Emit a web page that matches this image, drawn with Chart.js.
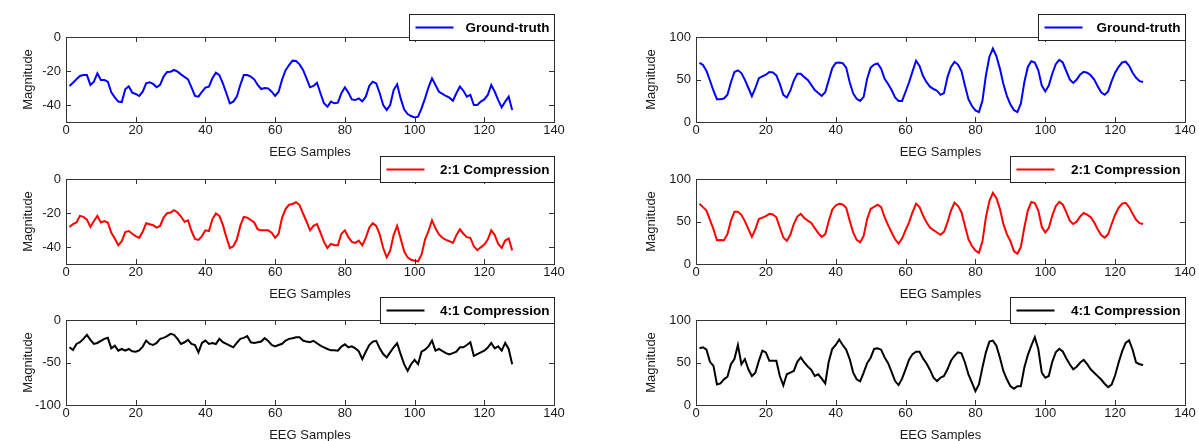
<!DOCTYPE html>
<html>
<head>
<meta charset="utf-8">
<script src="https://cdn.jsdelivr.net/npm/chart.js@4.4.0/dist/chart.umd.min.js"></script>
<style>
  body { margin: 0; background: #fff; width: 1199px; height: 441px; overflow: hidden; position: relative; }
  canvas { position: absolute; }
</style>
</head>
<body>
<canvas id="l1"></canvas>
<canvas id="l2"></canvas>
<canvas id="l3"></canvas>
<canvas id="r1"></canvas>
<canvas id="r2"></canvas>
<canvas id="r3"></canvas>
<script>
// sample index 1..128
const samples = Array.from({length: 128}, (_, i) => i + 1);

const xTicks = [0, 20, 40, 60, 80, 100, 120, 140];
const yTicksLeft = [-40, -20, 0];
const yTicksLeft4 = [-100, -50, 0];
const yTicksRight = [0, 50, 100];

const legendNames = ['Ground-truth', '2:1 Compression', '4:1 Compression'];

// left column
const gtLeft = [-28.8,-26.9,-24.9,-22.9,-22.4,-22.4,-28.2,-26.3,-21.4,-25.3,-25.3,-26.3,-32.5,-35.5,-38.0,-38.3,
  -30.8,-29.0,-32.7,-33.5,-34.7,-32.2,-27.3,-26.7,-27.6,-29.6,-28.2,-23.3,-20.6,-20.4,-19.4,-20.4,
  -22.0,-23.5,-24.9,-29.6,-34.7,-35.1,-32.2,-29.8,-29.2,-24.3,-21.0,-22.4,-27.3,-33.1,-39.0,-38.0,
  -35.1,-28.2,-22.4,-22.4,-23.3,-24.9,-28.2,-30.6,-30.0,-30.2,-32.2,-34.7,-32.2,-25.0,-19.5,-16.5,
  -13.9,-14.1,-16.1,-19.4,-24.3,-29.6,-28.8,-26.9,-33.1,-39.0,-41.0,-38.0,-39.0,-38.6,-33.1,-29.6,
  -32.7,-36.7,-37.1,-36.1,-37.8,-35.1,-28.8,-26.3,-27.3,-33.1,-40.0,-42.9,-40.0,-31.2,-27.8,-36.1,
  -42.5,-45.3,-46.5,-47.3,-46.9,-42.0,-36.1,-29.6,-24.3,-28.2,-32.2,-33.5,-34.7,-35.7,-37.5,-33.1,
  -29.2,-31.6,-35.1,-34.1,-40.0,-40.0,-38.0,-36.7,-34.1,-28.2,-32.2,-37.1,-41.4,-38.0,-35.1,-43.0];

const c2Left = [-28.2,-26.6,-25.6,-21.7,-22.3,-23.9,-28.2,-24.7,-21.7,-25.6,-24.7,-25.6,-31.6,-35.0,-39.0,-36.6,
  -31.2,-30.6,-32.2,-33.6,-34.6,-31.0,-26.0,-26.6,-27.2,-28.6,-27.6,-22.7,-20.1,-19.7,-18.3,-19.7,
  -22.1,-25.2,-24.3,-30.6,-35.2,-35.8,-33.6,-30.2,-30.6,-23.7,-20.3,-21.7,-27.0,-34.2,-40.6,-39.6,
  -35.6,-27.6,-22.3,-22.7,-24.1,-25.6,-29.6,-30.2,-30.2,-30.2,-31.6,-34.6,-32.2,-22.7,-17.7,-15.1,
  -14.7,-13.7,-15.3,-20.3,-25.0,-30.2,-27.6,-26.6,-31.6,-37.0,-40.6,-38.2,-39.0,-39.0,-32.2,-30.2,
  -34.2,-37.0,-37.6,-36.2,-39.0,-34.6,-28.6,-26.0,-27.6,-32.6,-40.6,-46.1,-42.1,-33.0,-27.6,-35.0,
  -42.5,-46.1,-47.5,-48.1,-48.5,-44.5,-35.6,-30.6,-24.3,-29.0,-32.6,-34.6,-35.8,-36.6,-37.6,-33.0,
  -29.6,-32.2,-34.2,-34.6,-39.6,-41.9,-40.2,-38.6,-35.6,-30.2,-33.0,-38.2,-40.6,-36.2,-35.0,-42.0];

const c4Left = [-32.1,-35.3,-28.2,-26.2,-22.2,-17.5,-23.4,-28.2,-27.0,-24.6,-22.2,-21.0,-33.3,-30.2,-36.1,-34.1,
  -36.1,-34.1,-36.9,-37.3,-35.7,-31.3,-24.2,-28.2,-29.4,-27.0,-22.2,-21.0,-19.0,-16.3,-17.5,-22.2,
  -28.2,-26.2,-23.4,-28.2,-29.4,-38.1,-27.0,-24.2,-28.2,-27.0,-28.2,-22.2,-26.2,-28.2,-30.2,-32.1,
  -27.0,-22.2,-21.0,-19.0,-26.2,-27.0,-26.2,-25.4,-21.4,-24.6,-29.4,-31.0,-29.4,-28.0,-24.2,-22.2,
  -21.4,-20.2,-20.2,-24.2,-25.4,-26.2,-24.6,-27.4,-30.2,-32.1,-34.1,-35.7,-35.7,-36.1,-31.3,-28.6,
  -32.1,-31.0,-33.3,-36.9,-46.0,-37.3,-29.4,-25.4,-24.6,-33.3,-40.1,-44.0,-38.1,-32.1,-27.4,-40.1,
  -52.0,-59.9,-52.0,-46.8,-52.0,-37.3,-34.9,-31.0,-24.2,-36.1,-34.1,-36.5,-38.9,-40.5,-38.9,-37.3,
  -32.1,-32.1,-29.4,-26.2,-42.1,-40.1,-38.1,-36.1,-32.5,-27.0,-33.3,-31.0,-36.1,-27.0,-34.1,-52.0];

// right column
const gtRight = [69.6,67.2,60.0,48.8,36.8,26.8,26.8,27.6,32.0,46.8,58.8,60.8,57.6,49.6,40.0,30.4,
  40.0,51.6,53.6,55.6,58.8,58.4,54.8,44.8,32.0,28.8,36.8,48.8,56.8,56.8,52.8,49.6,
  43.6,37.6,34.0,30.8,35.0,49.2,63.4,69.6,70.0,69.2,64.0,46.8,33.6,27.2,24.8,29.6,
  50.8,64.0,67.6,68.8,62.8,50.8,44.8,37.6,28.8,24.8,24.8,35.6,46.8,59.6,72.0,66.0,
  54.0,46.8,41.6,38.8,36.8,32.0,34.0,52.8,64.8,70.8,67.6,60.0,42.8,26.8,18.8,13.6,
  11.6,24.8,54.8,76.8,86.4,77.6,62.8,44.8,30.8,20.8,14.0,11.6,21.6,46.8,64.8,71.6,
  70.0,60.8,42.8,36.0,42.8,56.8,68.0,73.0,70.0,60.0,50.0,46.0,50.0,56.0,59.0,58.0,
  55.0,50.0,42.0,35.0,32.0,36.0,48.0,58.0,65.0,70.0,71.0,66.0,58.0,52.0,48.0,47.0];

const c2Right = [70.9,66.9,62.9,51.8,41.0,27.9,28.3,27.9,35.1,51.0,61.4,61.4,57.8,50.2,41.0,31.9,
  41.0,53.0,54.6,56.2,59.0,58.2,55.0,43.0,31.1,27.1,34.3,47.0,55.8,59.0,54.2,51.0,
  48.2,42.2,36.3,31.9,35.1,50.4,63.9,68.9,70.9,70.1,66.1,51.0,37.1,28.3,25.5,33.1,
  53.0,64.9,67.3,69.7,66.9,55.0,45.8,37.1,29.1,23.9,29.9,39.8,49.0,61.0,70.9,66.9,
  57.0,49.0,43.0,39.8,37.1,34.3,37.8,49.0,62.9,72.1,68.5,61.0,45.0,29.1,21.1,15.9,
  13.1,26.3,55.0,74.1,83.7,77.7,64.9,47.0,35.1,27.1,15.1,12.0,19.9,43.0,62.9,72.9,
  71.7,62.9,43.8,37.1,42.2,57.0,68.0,73.0,70.0,61.0,51.0,47.0,50.0,56.0,60.0,58.0,
  55.0,49.0,41.0,34.0,31.0,35.0,47.0,58.0,66.0,71.0,72.0,67.0,59.0,52.0,48.0,47.0];

const c4Right = [66.7,67.9,65.1,50.8,46.0,24.2,25.4,30.2,33.3,48.0,54.0,70.6,48.0,54.0,42.0,34.1,
  38.1,52.0,63.9,61.9,52.0,52.0,52.0,34.1,23.0,36.1,38.1,40.1,50.8,56.0,50.0,45.2,
  41.3,34.1,36.1,31.0,25.4,51.0,65.9,70.6,77.0,70.6,65.1,54.0,38.1,30.2,27.8,38.1,
  49.2,55.6,65.9,66.7,65.1,56.0,49.2,38.9,28.2,23.4,31.0,42.0,53.2,59.9,62.7,62.7,
  54.8,48.8,41.3,32.1,28.2,32.1,34.1,42.0,52.0,57.9,61.9,60.7,50.0,36.1,26.2,16.3,
  24.2,44.0,61.9,74.6,75.8,69.8,56.0,40.1,30.2,22.2,19.0,22.2,22.2,44.0,58.7,69.8,
  79.8,65.9,38.1,32.1,34.1,50.8,62.0,66.0,63.0,55.0,48.0,42.0,45.0,50.0,53.0,48.0,
  42.0,38.0,34.0,30.0,25.0,21.0,24.0,35.0,50.0,63.0,73.0,76.0,65.0,50.0,48.0,47.0];

const FONT = 'Liberation Sans, Arial, Helvetica, sans-serif';
const INK = '#1a1a1a';

// frame, inward ticks and the small boxed legend (matlab look)
function matlabFrame(cfg) {
  return {
    id: 'matlabFrame',
    afterDraw(chart) {
      const ctx = chart.ctx;
      const a = chart.chartArea;
      const xs = chart.scales.x, ys = chart.scales.y;
      ctx.save();
      ctx.strokeStyle = '#333';
      ctx.lineWidth = 1;
      ctx.beginPath();
      xs.ticks.forEach(t => {
        const px = Math.round(xs.getPixelForValue(t.value)) + 0.5;
        ctx.moveTo(px, a.bottom); ctx.lineTo(px, a.bottom - 5);
        ctx.moveTo(px, a.top); ctx.lineTo(px, a.top + 5);
      });
      ys.ticks.forEach(t => {
        const py = Math.round(ys.getPixelForValue(t.value)) + 0.5;
        ctx.moveTo(a.left, py); ctx.lineTo(a.left + 5, py);
        ctx.moveTo(a.right, py); ctx.lineTo(a.right - 5, py);
      });
      ctx.stroke();
      ctx.strokeRect(Math.round(a.left) + 0.5, Math.round(a.top) + 0.5,
        Math.round(a.right - a.left), Math.round(a.bottom - a.top));

      // legend box
      const right = Math.round(a.right) + 0.5;
      const top = Math.round(a.top) - 23 + 0.5;
      const h = 26;
      const left = right - cfg.legendWidth;
      ctx.fillStyle = '#fff';
      ctx.fillRect(left, top, cfg.legendWidth, h);
      ctx.strokeStyle = '#222';
      ctx.strokeRect(left, top, cfg.legendWidth, h);
      ctx.strokeStyle = cfg.color;
      ctx.lineWidth = 2;
      ctx.beginPath();
      ctx.moveTo(left + 6, top + h / 2);
      ctx.lineTo(left + 44, top + h / 2);
      ctx.stroke();
      ctx.fillStyle = '#000';
      ctx.font = 'bold 13.5px ' + FONT;
      ctx.textAlign = 'right';
      ctx.textBaseline = 'middle';
      ctx.fillText(cfg.label, right - 5, top + h / 2 + 1);
      ctx.restore();
    }
  };
}

function makeChart(id, pos, values, color, label, yMin, yMax, yTickVals, titlePad, legendWidth) {
  const el = document.getElementById(id);
  el.width = pos.w; el.height = pos.h;
  el.style.left = pos.x + 'px'; el.style.top = pos.y + 'px';
  const pts = values.map((v, i) => ({x: samples[i], y: v}));
  new Chart(el, {
    type: 'line',
    data: {
      datasets: [{
        data: pts,
        borderColor: color,
        borderWidth: 2,
        pointRadius: 0,
        tension: 0,
        fill: false
      }]
    },
    options: {
      responsive: false,
      animation: false,
      events: [],
      layout: {autoPadding: false, padding: {left: 0, top: 37, right: pos.padR, bottom: 0}},
      plugins: {legend: {display: false}, tooltip: {enabled: false}},
      scales: {
        x: {
          type: 'linear', min: 0, max: 140,
          afterBuildTicks: s => { s.ticks = xTicks.map(v => ({value: v})); },
          afterFit: s => { s.height = 40; s.paddingLeft = 0; s.paddingRight = 0; },
          grid: {display: false, drawTicks: false},
          border: {display: false},
          ticks: {color: INK, font: {family: FONT, size: 13}, padding: 1, maxRotation: 0, autoSkip: false},
          title: {display: true, text: 'EEG Samples', color: INK, font: {family: FONT, size: 13}, padding: {top: 0, bottom: 2}}
        },
        y: {
          type: 'linear', min: yMin, max: yMax,
          afterBuildTicks: s => { s.ticks = yTickVals.map(v => ({value: v})); },
          afterFit: s => { s.width = 66; s.paddingTop = 0; s.paddingBottom = 0; },
          grid: {display: false, drawTicks: false},
          border: {display: false},
          ticks: {color: INK, font: {family: FONT, size: 13}, padding: 5},
          title: {display: true, text: 'Magnitude', color: INK, font: {family: FONT, size: 13}, padding: {top: titlePad, bottom: 0}}
        }
      }
    },
    plugins: [matlabFrame({color: color, label: label, legendWidth: legendWidth})]
  });
}

const rowsY = [0, 142, 283];
const leftPos = r => ({x: 0, y: rowsY[r], w: 600, h: 162, padR: 46});
const rightPos = r => ({x: 630, y: rowsY[r], w: 569, h: 162, padR: 14});

makeChart('l1', leftPos(0), gtLeft, '#0000ff', legendNames[0], -50, 0, yTicksLeft, 21, 145);
makeChart('l2', leftPos(1), c2Left, '#ff0000', legendNames[1], -50, 0, yTicksLeft, 21, 174);
makeChart('l3', leftPos(2), c4Left, '#000000', legendNames[2], -100, 0, yTicksLeft4, 21, 174);
makeChart('r1', rightPos(0), gtRight, '#0000ff', legendNames[0], 0, 100, yTicksRight, 14, 147);
makeChart('r2', rightPos(1), c2Right, '#ff0000', legendNames[1], 0, 100, yTicksRight, 14, 175);
makeChart('r3', rightPos(2), c4Right, '#000000', legendNames[2], 0, 100, yTicksRight, 14, 175);
</script>
</body>
</html>
